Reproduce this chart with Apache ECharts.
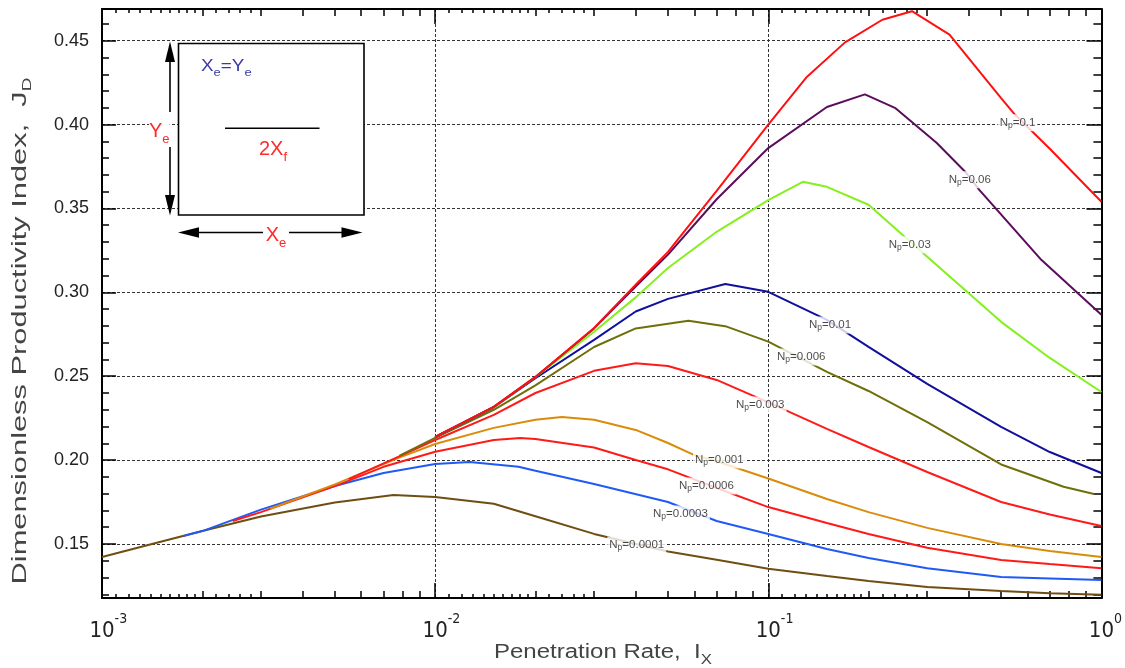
<!DOCTYPE html>
<html>
<head>
<meta charset="utf-8">
<script src="https://cdn.jsdelivr.net/npm/echarts@6/dist/echarts.min.js"></script>
<style>
  html, body { margin: 0; padding: 0; background: #ffffff; }
  #chart { width: 1125px; height: 668px; }
</style>
</head>
<body>
<div id="chart"></div>
<script>
// ---- Curve data: dimensionless productivity index J_D vs penetration rate I_X ----
const np0001X = [0.001, 0.0015, 0.002, 0.003, 0.005, 0.0075, 0.01, 0.015, 0.02, 0.03, 0.05, 0.07, 0.1, 0.15, 0.2, 0.3, 0.5, 0.7, 1.0];
const np0001Y = [0.1422, 0.1513, 0.1577, 0.1664, 0.1747, 0.1792, 0.178, 0.174, 0.1665, 0.156, 0.1455, 0.1406, 0.1353, 0.1309, 0.1279, 0.1243, 0.122, 0.1207, 0.1197];

const np0003X = [0.00175, 0.002, 0.003, 0.005, 0.007, 0.01, 0.0127, 0.0178, 0.02, 0.03, 0.05, 0.07, 0.1, 0.15, 0.2, 0.3, 0.5, 0.7, 1.0];
const np0003Y = [0.1547, 0.1577, 0.1705, 0.1846, 0.1923, 0.1977, 0.1989, 0.196, 0.1937, 0.1858, 0.175, 0.1637, 0.156, 0.147, 0.1416, 0.1355, 0.1303, 0.1294, 0.1285];

const np0006X = [0.00247, 0.003, 0.005, 0.007, 0.01, 0.015, 0.018, 0.02, 0.03, 0.04, 0.05, 0.07, 0.1, 0.15, 0.2, 0.3, 0.5, 0.7, 1.0];
const np0006Y = [0.1637, 0.169, 0.1845, 0.196, 0.205, 0.212, 0.2132, 0.2126, 0.2075, 0.2001, 0.1945, 0.1834, 0.172, 0.1625, 0.156, 0.1477, 0.1404, 0.138, 0.1356];

const np001X = [0.0032, 0.005, 0.0078, 0.01, 0.015, 0.02, 0.024, 0.03, 0.04, 0.05, 0.06, 0.07, 0.1, 0.15, 0.2, 0.3, 0.5, 0.7, 1.0];
const np001Y = [0.171, 0.1855, 0.2015, 0.2096, 0.2192, 0.224, 0.2257, 0.224, 0.218, 0.2102, 0.203, 0.1993, 0.189, 0.1768, 0.169, 0.1596, 0.15, 0.1458, 0.1422];

const np003X = [0.0055, 0.0078, 0.01, 0.015, 0.02, 0.03, 0.04, 0.05, 0.07, 0.1, 0.15, 0.2, 0.3, 0.5, 0.7, 1.0];
const np003Y = [0.1887, 0.2022, 0.212, 0.227, 0.24, 0.2532, 0.2577, 0.2561, 0.2478, 0.2344, 0.2186, 0.2078, 0.1929, 0.175, 0.1676, 0.1607];

const np006X = [0.0078, 0.01, 0.015, 0.02, 0.03, 0.04, 0.0576, 0.075, 0.1, 0.15, 0.2, 0.3, 0.5, 0.77, 0.95];
const np006Y = [0.2025, 0.2132, 0.23, 0.2445, 0.2674, 0.2785, 0.283, 0.2796, 0.2706, 0.2526, 0.2412, 0.2227, 0.1974, 0.1841, 0.1798];

const np01X = [0.01, 0.015, 0.02, 0.03, 0.04, 0.05, 0.0743, 0.1, 0.15, 0.2, 0.3, 0.5, 0.7, 1.0];
const np01Y = [0.2135, 0.2315, 0.2488, 0.2717, 0.2886, 0.2961, 0.305, 0.3003, 0.2836, 0.2675, 0.2454, 0.2198, 0.2048, 0.1923];

const np03X = [0.01, 0.015, 0.02, 0.03, 0.04, 0.05, 0.07, 0.1, 0.127, 0.15, 0.2, 0.3, 0.5, 0.7, 1.0];
const np03Y = [0.2137, 0.2316, 0.2494, 0.2765, 0.297, 0.3145, 0.3361, 0.355, 0.3659, 0.3629, 0.3522, 0.3212, 0.2824, 0.2609, 0.2406];

const np06X = [0.01, 0.015, 0.02, 0.03, 0.04, 0.05, 0.07, 0.1, 0.15, 0.195, 0.24, 0.32, 0.39, 0.43, 0.66, 1.0];
const np06Y = [0.2138, 0.2317, 0.2495, 0.2785, 0.3035, 0.3225, 0.3555, 0.386, 0.4105, 0.418, 0.41, 0.3892, 0.3719, 0.3611, 0.3194, 0.2866];

const np1X = [0.01, 0.015, 0.02, 0.03, 0.04, 0.05, 0.07, 0.1, 0.13, 0.17, 0.22, 0.27, 0.35, 0.5, 0.55, 0.7, 1.0];
const np1Y = [0.2138, 0.2317, 0.2496, 0.2788, 0.3045, 0.3241, 0.3605, 0.40, 0.428, 0.449, 0.4625, 0.4676, 0.4536, 0.4158, 0.406, 0.3856, 0.354];

// ---- Curve labels (placed on the curves) ----
const labelNp = ['0.1', '0.06', '0.03', '0.01', '0.006', '0.003', '0.001', '0.0006', '0.0003', '0.0001'];
const labelX  = [0.56, 0.4027, 0.266, 0.1533, 0.1256, 0.0946, 0.0713, 0.0652, 0.0545, 0.0403];
const labelY  = [0.4011, 0.3671, 0.3283, 0.2806, 0.2615, 0.2329, 0.2001, 0.1846, 0.1679, 0.1494];

// ---- Axis ticks ----
const xDecades = [0.001, 0.01, 0.1, 1];
const yMajor = [0.15, 0.20, 0.25, 0.30, 0.35, 0.40, 0.45];
const yMin = 0.1178, yMax = 0.4689;

const xMid = [], xSmall = [];
[0.001, 0.01, 0.1].forEach(d => {
  [2, 3, 4, 5, 6, 7, 8, 9].forEach(m => xMid.push(+(m * d).toPrecision(6)));
  [1.1, 1.2, 1.3, 1.4, 1.5, 1.6, 1.7, 1.8, 1.9, 2.2, 2.4, 2.6, 2.8].forEach(m => xSmall.push(+(m * d).toPrecision(6)));
});
const yMinor = [];
for (let k = 12; k <= 46; k++) { if (k % 5 !== 0) yMinor.push(k / 100); }

const curves = [
  { np: '0.0001', x: np0001X, y: np0001Y, color: '#6e4e12' },
  { np: '0.0003', x: np0003X, y: np0003Y, color: '#1f5af5' },
  { np: '0.0006', x: np0006X, y: np0006Y, color: '#ff1a1a' },
  { np: '0.001',  x: np001X,  y: np001Y,  color: '#d98c0a' },
  { np: '0.003',  x: np003X,  y: np003Y,  color: '#ff1a1a' },
  { np: '0.006',  x: np006X,  y: np006Y,  color: '#6f6f0a' },
  { np: '0.01',   x: np01X,   y: np01Y,   color: '#10109c' },
  { np: '0.03',   x: np03X,   y: np03Y,   color: '#84f01c' },
  { np: '0.06',   x: np06X,   y: np06Y,   color: '#5c0c5c' },
  { np: '0.1',    x: np1X,    y: np1Y,    color: '#ff1010' }
];

const FONT = 'Liberation Sans, Arial, sans-serif';
const NARROW = 'Liberation Sans Narrow, DejaVu Sans Condensed, Liberation Sans, sans-serif';
const BLACK = '#000000';

function xAxisDef(position, values, len, main) {
  return {
    type: 'log', logBase: 10, min: 0.001, max: 1, position: position,
    axisLine: { show: main, onZero: false, lineStyle: { color: BLACK, width: 2 } },
    axisTick: { show: true, inside: true, length: len, customValues: values, lineStyle: { color: BLACK, width: 1.5 } },
    axisLabel: main && position === 'bottom' ? {
      show: true, customValues: xDecades, margin: 14, fontFamily: NARROW, color: '#222',
      formatter: v => { const e = Math.round(Math.log10(v)); return '{h|' + e + '}{b|10}{s|' + e + '}'; },
      rich: {
        b: { fontSize: 22, fontFamily: NARROW, color: '#222', lineHeight: 30, verticalAlign: 'bottom' },
        s: { fontSize: 14, fontFamily: NARROW, color: '#222', lineHeight: 30, verticalAlign: 'top' },
        h: { fontSize: 14, fontFamily: NARROW, color: 'rgba(0,0,0,0)', lineHeight: 30, verticalAlign: 'top' }
      }
    } : { show: false },
    splitLine: { show: main && position === 'bottom', lineStyle: { color: '#333', width: 1, type: [3, 2] } },
    axisPointer: { show: false }
  };
}

function yAxisDef(position, values, len, main) {
  return {
    type: 'value', min: yMin, max: yMax, position: position,
    axisLine: { show: main, onZero: false, lineStyle: { color: BLACK, width: 2 } },
    axisTick: { show: true, inside: true, length: len, customValues: values, lineStyle: { color: BLACK, width: 1.5 } },
    axisLabel: main && position === 'left' ? {
      show: true, customValues: yMajor, margin: 13, fontSize: 18, fontFamily: FONT, color: '#222',
      formatter: v => v.toFixed(2)
    } : { show: false },
    splitLine: { show: main && position === 'left', lineStyle: { color: '#333', width: 1, type: [3, 2] } },
    axisPointer: { show: false }
  };
}

const series = curves.map(c => ({
  type: 'line',
  name: 'Np=' + c.np,
  xAxisIndex: 0, yAxisIndex: 0,
  data: c.x.map((v, i) => [v, c.y[i]]),
  showSymbol: false, symbol: 'none', smooth: false,
  lineStyle: { color: c.color, width: 2 },
  itemStyle: { color: c.color },
  z: 2,
  silent: true
}));

series.push({
  type: 'scatter',
  xAxisIndex: 0, yAxisIndex: 0,
  data: labelNp.map((n, i) => [labelX[i], labelY[i], n]),
  symbolSize: 1,
  itemStyle: { color: 'rgba(0,0,0,0)' },
  z: 5,
  silent: true,
  label: {
    show: true, position: 'inside',
    formatter: p => '{n|N}{p|p}{n|=' + p.data[2] + '}',
    backgroundColor: '#ffffff', padding: [1, 2, 1, 2],
    rich: {
      n: { fontSize: 11.5, fontFamily: FONT, color: '#1a1a1a', lineHeight: 15, verticalAlign: 'middle' },
      p: { fontSize: 8.5, fontFamily: FONT, color: '#1a1a1a', lineHeight: 15, verticalAlign: 'bottom' }
    }
  }
});

// Inset sketch: square drainage area with a centred fracture of length 2X_f
const RED = '#ff2a2a';
const graphics = [
  { type: 'rect', z: 50, shape: { x: 178.5, y: 43.5, width: 185.5, height: 171.5 },
    style: { fill: '#ffffff', stroke: BLACK, lineWidth: 1.6 } },
  { type: 'line', z: 51, shape: { x1: 225, y1: 128.3, x2: 319.5, y2: 128.3 }, style: { stroke: BLACK, lineWidth: 1.6 } },
  // vertical dimension arrow
  { type: 'line', z: 51, shape: { x1: 170, y1: 60, x2: 170, y2: 112 }, style: { stroke: BLACK, lineWidth: 1.6 } },
  { type: 'line', z: 51, shape: { x1: 170, y1: 147, x2: 170, y2: 197 }, style: { stroke: BLACK, lineWidth: 1.6 } },
  { type: 'polygon', z: 51, shape: { points: [[170, 41.5], [165, 62], [175, 62]] }, style: { fill: BLACK } },
  { type: 'polygon', z: 51, shape: { points: [[170, 215.5], [165, 195], [175, 195]] }, style: { fill: BLACK } },
  // horizontal dimension arrow
  { type: 'line', z: 51, shape: { x1: 198, y1: 232.5, x2: 263, y2: 232.5 }, style: { stroke: BLACK, lineWidth: 1.6 } },
  { type: 'line', z: 51, shape: { x1: 289, y1: 232.5, x2: 343, y2: 232.5 }, style: { stroke: BLACK, lineWidth: 1.6 } },
  { type: 'polygon', z: 51, shape: { points: [[178, 232.5], [199, 227.3], [199, 237.7]] }, style: { fill: BLACK } },
  { type: 'polygon', z: 51, shape: { points: [[362.5, 232.5], [341.5, 227.3], [341.5, 237.7]] }, style: { fill: BLACK } },
  // dimension labels
  { type: 'text', z: 52, x: 149, y: 131,
    style: { text: '{a|Y}{b|e}', textAlign: 'left', textVerticalAlign: 'middle', backgroundColor: '#ffffff',
      rich: { a: { fontSize: 20, fontFamily: FONT, fill: RED, lineHeight: 30, verticalAlign: 'middle' },
              b: { fontSize: 13, fontFamily: FONT, fill: RED, lineHeight: 30, verticalAlign: 'bottom' } } } },
  { type: 'text', z: 52, x: 276, y: 235,
    style: { text: '{a|X}{b|e}', textAlign: 'center', textVerticalAlign: 'middle',
      rich: { a: { fontSize: 20, fontFamily: FONT, fill: RED, lineHeight: 30, verticalAlign: 'middle' },
              b: { fontSize: 13, fontFamily: FONT, fill: RED, lineHeight: 30, verticalAlign: 'bottom' } } } },
  { type: 'text', z: 52, x: 273, y: 149,
    style: { text: '{a|2X}{b|f}', textAlign: 'center', textVerticalAlign: 'middle',
      rich: { a: { fontSize: 20, fontFamily: FONT, fill: RED, lineHeight: 30, verticalAlign: 'middle' },
              b: { fontSize: 13, fontFamily: FONT, fill: RED, lineHeight: 30, verticalAlign: 'bottom' } } } },
  { type: 'text', z: 52, x: 201, y: 67, scaleX: 1.18,
    style: { text: '{a|X}{b|e}{a|=Y}{b|e}', textAlign: 'left', textVerticalAlign: 'middle',
      rich: { a: { fontSize: 16, fontFamily: FONT, fill: '#3a3aa6', lineHeight: 22, verticalAlign: 'middle' },
              b: { fontSize: 11, fontFamily: FONT, fill: '#3a3aa6', lineHeight: 22, verticalAlign: 'bottom' } } } },
  // axis titles
  { type: 'text', z: 52, x: 21, y: 331, rotation: Math.PI / 2, scaleX: 1.58,
    style: { text: 'Dimensionless Productivity Index,  J{b|D}', textAlign: 'center', textVerticalAlign: 'middle',
      fontSize: 19.5, fontFamily: FONT, fill: '#444',
      rich: { b: { fontSize: 12, fontFamily: FONT, fill: '#444', lineHeight: 26, verticalAlign: 'bottom' } } } },
  { type: 'text', z: 52, x: 603, y: 652, scaleX: 1.2,
    style: { text: 'Penetration Rate,  I{b|X}', textAlign: 'center', textVerticalAlign: 'middle',
      fontSize: 20, fontFamily: FONT, fill: '#444',
      rich: { b: { fontSize: 14, fontFamily: FONT, fill: '#444', lineHeight: 30, verticalAlign: 'bottom' } } } }
];

const chart = echarts.init(document.getElementById('chart'), null, { renderer: 'canvas' });
chart.setOption({
  animation: false,
  backgroundColor: '#ffffff',
  grid: { left: 102, right: 21, top: 9, bottom: 70, containLabel: false },
  xAxis: [
    xAxisDef('bottom', xDecades, 15, true),
    xAxisDef('bottom', xMid, 7, false),
    xAxisDef('bottom', xSmall, 4, false),
    xAxisDef('top', xDecades, 15, true),
    xAxisDef('top', xMid, 7, false),
    xAxisDef('top', xSmall, 4, false)
  ],
  yAxis: [
    yAxisDef('left', yMajor, 14, true),
    yAxisDef('left', yMinor, 7, false),
    yAxisDef('right', yMajor, 15, true),
    yAxisDef('right', yMinor, 8, false)
  ],
  series: series,
  graphic: graphics
});
</script>
</body>
</html>
